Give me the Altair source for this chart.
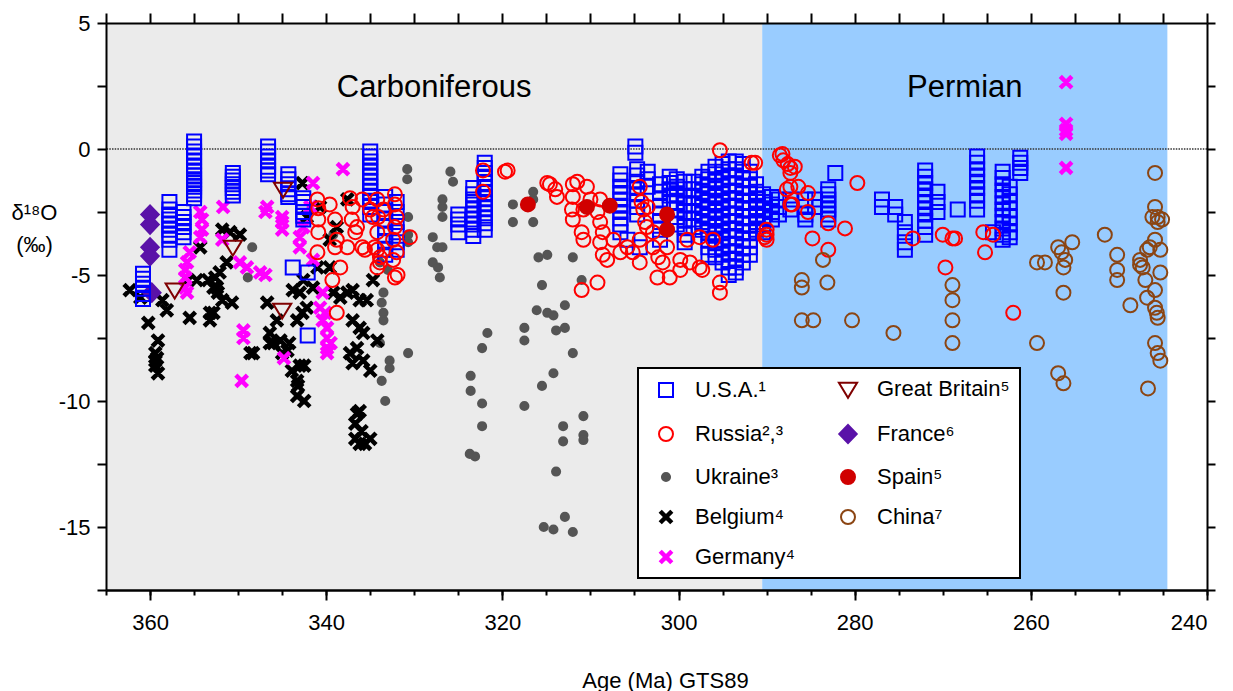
import altair as alt
import pandas as pd

FONT = "Liberation Sans"

# ---------------- categories (column-major order of the 2-column legend) ----------------
countries = ["U.S.A.¹", "Russia²,³", "Ukraine³", "Belgium⁴", "Germany⁴",
             "Great Britain⁵", "France⁶", "Spain⁵", "China⁷"]

# ---------------- series values (age Ma, d18O permil) ----------------
usa_cols = [
    (360.8, [-4.95, -5.15, -5.35, -5.55, -5.75, -5.95]),
    (357.8, [-2.1, -2.4, -2.6, -2.8, -3.0, -3.2, -3.4, -3.6, -4.0]),
    (356.2, [-2.5, -2.7, -2.9, -3.1, -3.3, -3.5]),
    (355.0, [0.3, 0.1, -0.1, -0.3, -0.5, -0.7, -0.9, -1.05, -1.2, -1.35, -1.5, -1.65, -1.8, -1.95]),
    (350.6, [-0.95, -1.1, -1.25, -1.4, -1.55, -1.7, -1.85]),
    (346.6, [0.1, -0.1, -0.3, -0.5, -0.7, -0.85, -1.0]),
    (344.3, [-1.0, -1.2, -1.4, -1.6, -1.8, -1.9]),
    (342.6, [-1.95, -2.1, -2.3, -2.5, -2.65, -2.8]),
    (343.8, [-4.7]),
    (342.1, [-4.9, -7.4]),
    (335.0, [-0.1, -0.3, -0.5, -0.7, -0.9, -1.1, -1.3, -1.5, -1.7, -1.9, -2.1, -2.3, -2.6]),
    (333.3, [-1.9, -2.2, -2.5, -2.8, -3.1, -3.4, -3.7, -4.0, -4.2]),
    (332.0, [-2.1, -2.5, -2.9, -3.3, -3.7, -4.0]),
    (325.0, [-2.6, -2.8, -3.0, -3.3]),
    (323.3, [-1.55, -1.8, -2.0, -2.2, -2.4, -2.6, -2.8, -3.0, -3.2, -3.45]),
    (322.0, [-0.55, -0.75, -0.95, -1.15, -1.35, -1.55, -1.75, -1.95, -2.15, -2.35, -2.55, -2.75, -2.95, -3.2]),
    (306.6, [-1.0, -1.25, -1.5, -1.75, -2.0, -2.25, -2.5, -2.75, -3.0, -3.3]),
    (305.8, [-3.6]),
    (304.9, [0.1, -0.15]),
    (304.7, [-0.8, -1.05, -1.3, -1.55, -1.8, -2.05, -2.3, -2.6]),
    (304.4, [-3.9]),
    (303.5, [-0.9, -1.2, -1.5]),
    (302.1, [-1.4, -1.7, -2.0, -2.3, -2.6, -2.9, -3.2, -3.6]),
    (301.0, [-1.1, -1.35, -1.6, -1.85, -2.1]),
    (300.2, [-1.2, -1.5, -1.8, -2.1, -2.4, -2.7, -3.0]),
    (299.3, [-1.3, -1.6, -1.9, -2.2, -2.5, -2.8, -3.1, -3.4, -3.7]),
    (298.3, [-1.3, -1.6, -1.9, -2.2, -2.5, -2.8, -3.1]),
    (297.3, [-1.1, -1.4, -1.7, -2.0, -2.3, -2.6, -2.9, -3.2]),
    (296.6, [-0.9, -1.2, -1.5, -1.8, -2.1, -2.4, -2.7, -3.0, -3.3, -3.6, -3.9, -4.2]),
    (295.8, [-0.7, -1.0, -1.3, -1.6, -1.9, -2.2, -2.5, -2.8, -3.1, -3.4, -3.7, -4.0, -4.3]),
    (295.0, [-0.6, -0.9, -1.2, -1.5, -1.8, -2.1, -2.4, -2.7, -3.0, -3.3, -3.6, -3.9, -4.2, -4.5]),
    (294.3, [-0.5, -0.8, -1.1, -1.4, -1.7, -2.0, -2.3, -2.6, -2.9, -3.2, -3.5, -3.8, -4.1, -4.4, -4.7, -5.0]),
    (293.5, [-0.5, -0.8, -1.1, -1.4, -1.7, -2.0, -2.3, -2.6, -2.9, -3.2, -3.5, -3.8, -4.1, -4.4, -4.7, -4.9]),
    (292.7, [-0.6, -0.9, -1.2, -1.5, -1.8, -2.1, -2.4, -2.7, -3.0, -3.3, -3.6, -3.9, -4.2, -4.5]),
    (291.9, [-0.9, -1.2, -1.5, -1.8, -2.1, -2.4, -2.7, -3.0, -3.3, -3.6, -3.9, -4.2]),
    (291.2, [-1.4, -1.7, -2.0, -2.3, -2.6, -2.9, -3.2]),
    (290.4, [-1.8, -2.1, -2.4, -2.7, -3.0, -3.3]),
    (289.4, [-1.9, -2.2, -2.5, -2.8]),
    (288.6, [-2.0, -2.3, -2.6]),
    (287.3, [-2.0, -2.4]),
    (285.6, [-2.0, -2.3, -2.6, -2.8]),
    (284.5, [-2.0, -2.3]),
    (283.0, [-1.6, -1.8, -2.0, -2.2, -2.4, -2.6, -2.8]),
    (282.2, [-0.95]),
    (276.9, [-2.0, -2.3]),
    (275.4, [-2.3, -2.6]),
    (274.3, [-2.9, -3.3, -3.7, -4.0]),
    (272.0, [-0.85, -1.1, -1.35, -1.6, -1.85, -2.1, -2.35, -2.6, -2.85, -3.1, -3.4]),
    (270.6, [-1.7, -2.1, -2.5]),
    (268.3, [-2.4]),
    (266.1, [-0.3, -0.55, -0.8, -1.05, -1.3, -1.55, -1.8, -2.05, -2.4]),
    (264.3, [-3.3]),
    (263.2, [-0.9, -1.15, -1.4, -1.65, -1.9, -2.15, -2.4, -2.65, -2.9, -3.15, -3.4, -3.6]),
    (262.4, [-1.5, -1.8, -2.1, -2.4, -2.7, -3.0, -3.3, -3.5]),
    (261.2, [-0.35, -0.55, -0.75, -0.95]),
]

russia = [
    (341.0, -2.0), (340.9, -2.35), (340.9, -2.8), (340.9, -3.3), (341.0, -4.1),
    (339.6, -2.2), (339.0, -2.8), (339.0, -3.9), (338.8, -3.6), (338.4, -4.7), (339.3, -5.2), (338.8, -6.5),
    (337.3, -1.95), (337.0, -2.3), (337.1, -2.8), (336.7, -3.3), (336.5, -3.1), (335.9, -3.9), (335.6, -4.0),
    (337.6, -3.9), (335.9, -2.0), (335.0, -2.4), (334.2, -2.0), (334.1, -2.7), (334.2, -3.3), (334.5, -3.9),
    (333.9, -4.3), (334.2, -4.7), (333.5, -2.4), (334.2, -4.0), (334.7, -2.7), (333.9, -4.5),
    (332.2, -1.8), (332.2, -2.2), (332.0, -2.7), (332.2, -3.1), (332.4, -3.6), (332.0, -4.1), (331.9, -5.0),
    (332.4, -4.4), (332.2, -5.1), (330.5, -3.5),
    (322.2, -0.85), (322.2, -1.7), (319.4, -0.85), (319.7, -0.9),
    (314.9, -1.35), (314.6, -1.4), (314.0, -1.6), (313.8, -1.9), (312.0, -1.4), (312.0, -1.9), (312.1, -2.4),
    (312.0, -2.8), (311.0, -3.3), (310.8, -3.6), (311.5, -1.3), (310.4, -1.5), (310.0, -2.0), (310.8, -2.4),
    (308.9, -2.0), (309.2, -2.5), (308.9, -2.9), (308.6, -3.3), (308.9, -3.7), (308.6, -4.2), (308.1, -4.4),
    (311.0, -5.6), (309.2, -5.3), (307.4, -3.6), (306.6, -4.1), (305.8, -3.9), (305.2, -4.1), (304.4, -4.5),
    (304.4, -3.6), (304.0, -2.4), (304.4, -1.5), (304.2, -2.1), (303.5, -2.3), (303.8, -2.9), (303.6, -3.1),
    (302.9, -3.3), (302.9, -3.9), (302.3, -4.3), (301.3, -3.9), (301.8, -4.5), (301.0, -5.1), (302.4, -5.1),
    (299.8, -4.4), (299.8, -4.8), (298.7, -4.5), (297.6, -4.7), (297.3, -4.8), (299.0, -3.6), (297.6, -3.5),
    (296.1, -3.6), (295.3, -0.05), (295.3, -5.3), (295.3, -5.7), (291.7, -0.55), (290.0, -3.4), (290.0, -3.6),
    (288.5, -0.25), (288.1, -0.45), (287.3, -0.75), (287.3, -1.5), (287.3, -2.2), (291.3, -0.55), (288.2, -0.2),
    (287.6, -0.6), (286.8, -0.7), (287.3, -0.95), (287.7, -1.6), (286.4, -1.5), (285.3, -1.75), (285.3, -2.5),
    (287.1, -2.2), (290.2, -3.5), (290.0, -3.2), (284.8, -3.55), (283.0, -2.95), (283.0, -4.0), (281.1, -3.15),
    (279.7, -1.35), (273.4, -3.55), (270.0, -3.4), (268.9, -3.55), (268.6, -3.55), (269.7, -4.7), (265.4, -3.3),
    (264.3, -3.4), (265.2, -4.1), (262.0, -6.5),
]

ukraine = [
    (348.4, -3.9), (348.9, -5.1), (339.2, -3.4),
    (330.8, -0.8), (330.8, -1.2), (330.7, -2.7), (330.7, -3.4), (330.7, -3.7),
    (333.9, -4.5), (333.0, -4.8), (333.5, -5.7), (333.7, -6.1), (333.5, -6.5), (333.5, -6.8),
    (333.9, -7.7), (332.8, -8.4), (332.8, -8.7), (333.3, -10.0), (333.7, -9.2), (330.7, -8.1),
    (325.9, -0.9), (325.6, -1.3), (326.8, -2.0), (326.8, -2.3), (326.8, -2.7),
    (327.9, -3.5), (327.4, -3.9), (326.8, -3.9), (327.9, -4.5), (327.3, -4.7), (327.1, -5.1),
    (318.8, -2.2), (318.8, -2.9), (316.5, -1.7), (316.5, -2.0), (316.5, -2.9),
    (315.9, -4.3), (314.9, -4.2), (312.0, -4.3), (315.5, -5.4), (311.0, -5.2),
    (312.9, -6.2), (316.1, -6.4), (314.9, -6.5), (314.2, -6.6),
    (321.7, -7.3), (317.5, -7.1), (317.5, -7.6), (313.9, -7.2), (312.9, -7.1),
    (322.3, -7.9), (312.0, -8.1), (314.2, -8.9), (315.5, -9.4),
    (323.6, -9.0), (323.6, -9.6), (322.3, -10.1), (317.5, -10.2), (322.3, -11.0),
    (310.8, -10.6), (313.1, -11.0), (313.1, -11.6), (310.8, -11.35), (310.8, -11.55),
    (323.7, -12.1), (323.1, -12.2), (313.9, -12.8),
    (312.9, -14.6), (315.3, -15.0), (314.2, -15.1), (312.0, -15.2),
]

belgium = [
    (362.3, -5.6), (361.1, -5.9), (360.2, -6.9), (359.1, -7.6), (359.4, -8.1), (359.4, -8.4), (359.4, -8.6),
    (359.1, -8.9), (359.2, -8.3), (358.6, -6.0), (358.1, -6.4),
    (355.7, -5.2), (355.5, -6.7), (354.7, -5.2), (354.3, -3.9), (353.4, -5.2), (353.2, -6.8), (352.8, -6.5),
    (352.8, -5.5), (352.6, -5.1), (352.4, -5.5), (352.1, -4.9), (352.3, -5.7), (351.8, -6.0), (353.2, -6.5),
    (351.8, -3.2), (350.9, -3.3), (349.8, -3.4), (351.3, -4.5), (350.7, -6.1), (348.6, -8.1), (348.3, -8.1),
    (346.7, -6.1), (346.4, -7.3), (346.4, -7.7), (346.0, -7.7), (345.6, -6.8), (345.2, -7.6), (345.0, -8.1),
    (344.4, -8.0), (344.2, -7.7), (343.9, -8.8), (343.3, -9.2), (343.2, -9.4), (343.3, -9.8), (342.5, -10.0),
    (343.0, -8.6), (342.5, -8.6), (343.8, -5.6), (343.0, -5.7), (342.6, -5.2), (342.2, -6.3), (342.7, -6.5),
    (343.3, -6.8), (342.7, -1.35), (341.5, -5.5), (341.0, -4.7), (342.2, -2.7), (340.7, -2.3), (338.8, -3.1),
    (337.6, -2.0), (339.6, -3.6), (339.6, -4.7), (339.2, -5.7), (338.4, -5.9), (337.6, -5.7), (337.0, -5.6),
    (336.2, -6.0), (335.4, -6.0), (337.0, -6.8), (336.2, -7.1), (335.8, -7.3), (336.5, -7.9), (337.3, -8.1),
    (337.0, -8.5), (335.8, -8.4), (335.0, -8.8), (334.2, -7.6), (334.7, -5.2),
    (336.5, -10.5), (336.2, -10.4), (336.7, -10.9), (336.0, -11.2), (336.7, -11.5), (335.0, -11.5),
    (335.6, -11.7), (336.2, -11.7),
]

germany = [
    (354.3, -2.5), (354.1, -2.8), (354.1, -3.2), (354.3, -3.5), (355.5, -4.1), (355.8, -4.5), (356.0, -4.8),
    (356.0, -5.1), (356.0, -5.5), (355.8, -5.7), (351.7, -2.3), (351.8, -3.6), (349.8, -4.5), (349.0, -4.7),
    (347.5, -4.9), (346.9, -5.0), (349.4, -7.2), (349.4, -7.5), (349.6, -9.2), (346.7, -2.3), (346.9, -2.5),
    (345.0, -2.7), (345.0, -2.9), (345.0, -3.2), (344.8, -8.3), (341.5, -1.35), (341.8, -2.3), (342.6, -3.1),
    (343.0, -3.5), (343.0, -3.9), (341.5, -4.4), (340.4, -5.7), (340.7, -6.3), (340.1, -6.5), (340.4, -6.8),
    (339.9, -7.1), (339.9, -7.5), (339.9, -7.9), (339.9, -8.1), (339.5, -7.7), (338.1, -0.8),
    (256.0, 2.65), (256.0, 1.0), (256.0, 0.75), (256.0, 0.6), (256.0, -0.75),
]

great_britain = [(357.2, -5.6), (350.6, -3.9), (344.9, -1.6), (345.0, -6.4)]
france = [(360.0, -2.6), (360.0, -3.0), (360.0, -3.9), (360.0, -4.25), (359.8, -5.7)]
spain = [(317.1, -2.2), (310.4, -2.3), (307.8, -2.25), (301.3, -2.6), (301.3, -3.2)]

china = [
    (286.0, -5.2), (286.0, -5.5), (286.0, -6.8), (284.7, -6.8), (283.1, -5.3), (283.6, -4.4), (280.3, -6.8),
    (275.6, -7.3), (268.9, -5.4), (268.9, -6.0), (268.9, -6.8), (268.9, -7.7), (259.3, -4.5), (258.4, -4.5),
    (259.3, -7.7), (256.9, -3.9), (256.5, -4.1), (256.1, -4.4), (256.3, -4.7), (255.3, -3.7), (256.3, -5.7),
    (256.9, -8.9), (256.3, -9.3), (251.6, -3.4), (250.2, -4.2), (250.2, -4.8), (250.2, -5.2), (248.7, -6.2),
    (247.6, -4.4), (247.3, -4.7), (247.0, -5.2), (246.8, -4.0), (246.5, -3.9), (245.9, -3.6), (245.3, -4.0),
    (245.3, -4.9), (245.9, -5.6), (246.8, -5.9), (245.9, -6.3), (245.7, -6.5), (245.6, -6.7), (245.9, -7.7),
    (245.6, -8.1), (245.3, -8.4), (246.7, -9.5), (245.9, -0.95), (245.9, -2.3), (246.2, -2.7), (245.6, -2.7),
    (245.6, -2.9), (245.1, -2.8), (247.6, -4.6),
]

# geological periods (GTS89)
period_names = ["Carboniferous", "Permian"]
period_start = [365.0, 290.5]
period_end = [290.5, 244.5]
zero_level = [0.0]

# ---------------- styles ----------------
X_PATH = "M-0.85,-0.6L-0.6,-0.85L0.85,0.6L0.6,0.85Z M0.6,-0.85L0.85,-0.6L-0.6,0.85L-0.85,0.6Z"
DOT_PATH = "M0.58,0A0.58,0.58,0,1,1,-0.58,0A0.58,0.58,0,1,1,0.58,0Z"
TRI_PATH = "M-1.3,-0.95L1.3,-0.95L0,1.2Z"
DIAM_PATH = "M0,-1.3L1.25,0L0,1.3L-1.25,0Z"

style = {  # country: (shape, stroke, fill)
    "U.S.A.¹": ("square", "#0000FF", "transparent"),
    "Russia²,³": ("circle", "#FF0000", "transparent"),
    "Ukraine³": (DOT_PATH, "#555555", "#555555"),
    "Belgium⁴": (X_PATH, "#000000", "#000000"),
    "Germany⁴": (X_PATH, "#FF00FF", "#FF00FF"),
    "Great Britain⁵": (TRI_PATH, "#7F0000", "transparent"),
    "France⁶": (DIAM_PATH, "#5A12A8", "#5A12A8"),
    "Spain⁵": ("circle", "#D00000", "#D00000"),
    "China⁷": ("circle", "#8B4513", "transparent"),
}
shape_range = [style[c][0] for c in countries]
stroke_range = [style[c][1] for c in countries]
fill_range = [style[c][2] for c in countries]
period_colors = ["#EBEBEB", "#99CCFF"]

# ---------------- tables ----------------
rows = []
def add(name, pts):
    for a, v in pts:
        rows.append({"age": a, "d18O": v, "country": name})

add("Ukraine³", ukraine)
add("Belgium⁴", belgium)
add("Germany⁴", germany)
add("France⁶", france)
add("U.S.A.¹", [(a, v) for a, vals in usa_cols for v in vals])
add("Russia²,³", russia)
add("China⁷", china)
add("Great Britain⁵", great_britain)
add("Spain⁵", spain)
df = pd.DataFrame(rows)

periods = pd.DataFrame({"period": period_names, "start": period_start, "end": period_end,
                        "color": period_colors})
ref = pd.DataFrame({"level": zero_level})

# ---------------- scales / axes ----------------
x_scale = alt.Scale(domain=[240, 365], reverse=True, nice=False, zero=False)
y_scale = alt.Scale(domain=[-17.5, 5], nice=False, zero=False)
ticks5 = list(range(240, 366, 5))
ticks20 = list(range(240, 361, 20))
yticks = [-17.5 + 2.5 * i for i in range(10)]

ax = dict(domainColor="black", domainWidth=2, tickColor="black", tickWidth=2, grid=False, zindex=1,
          labelFont=FONT, labelColor="black", titleFont=FONT, titleColor="black", titleFontWeight="normal")

bg = alt.Chart(periods).mark_rect().encode(
    x=alt.X("start:Q", scale=x_scale,
            axis=alt.Axis(orient="bottom", values=ticks5, tickSize=5, labels=False, title=None, **ax)),
    x2="end:Q",
    y=alt.YDatum(5, type="quantitative", scale=y_scale,
                 axis=alt.Axis(orient="left", values=yticks, tickSize=9, labelPadding=7, labelFontSize=22,
                               labelExpr="datum.value % 5 == 0 ? toString(datum.value) : ''",
                               title=["δ¹⁸O", "(‰)"], titleAngle=0, titleX=-72, titleY=189,
                               titleAlign="center", titleBaseline="middle", titleFontSize=22,
                               titleLineHeight=32, **ax)),
    y2=alt.Y2Datum(-17.5),
    fill=alt.Fill("color:N", scale=None),
)

zero = alt.Chart(ref).mark_rule(color="#333333", strokeWidth=1.6, strokeDash=[1.5, 1.2]).encode(
    y=alt.Y("level:Q", scale=y_scale,
            axis=alt.Axis(orient="right", values=yticks, tickSize=8, labels=False, title=None, **ax)),
)

period_text = alt.Chart(periods).transform_calculate(
    mid="(datum.start + datum.end) / 2"
).mark_text(font=FONT, fontSize=31, baseline="alphabetic", color="black").encode(
    x=alt.X("mid:Q", scale=x_scale,
            axis=alt.Axis(orient="top", values=ticks5, tickSize=10, labels=False, title=None, **ax)),
    y=alt.YDatum(2.05, type="quantitative", scale=y_scale, axis=None),
    text="period:N",
)

leg = alt.Legend(title=None, orient="none", legendX=532, legendY=345, columns=2, columnPadding=35,
                 rowPadding=18, padding=10, labelOffset=18, symbolOffset=7, labelFont=FONT,
                 labelFontSize=22, labelColor="black", labelLimit=400, symbolSize=196,
                 symbolStrokeWidth=2, fillColor="white", strokeColor="black")

points = alt.Chart(df).mark_point(size=196, strokeWidth=2, opacity=1).encode(
    x=alt.X("age:Q", scale=x_scale,
            axis=alt.Axis(orient="bottom", values=ticks20, tickSize=10, labelFontSize=22, labelPadding=12,
                          title="Age (Ma) GTS89", titleFontSize=22, titleX=559, titleY=80, **ax)),
    y=alt.Y("d18O:Q", scale=y_scale, axis=None),
    shape=alt.Shape("country:N", scale=alt.Scale(domain=countries, range=shape_range), legend=leg),
    stroke=alt.Stroke("country:N", scale=alt.Scale(domain=countries, range=stroke_range), legend=leg),
    fill=alt.Fill("country:N", scale=alt.Scale(domain=countries, range=fill_range), legend=leg),
)

chart = alt.layer(bg, zero, period_text, points).resolve_axis(
    x="independent", y="independent"
).properties(
    width=1101, height=567,
    padding={"left": 106, "top": 23, "right": 26, "bottom": 101},
    autosize=alt.AutoSizeParams(type="none"),
    background="white",
).configure_view(stroke=None).configure_legend(strokeWidth=2)

chart.save("out.html", embed_options={"renderer": "svg", "actions": False})
